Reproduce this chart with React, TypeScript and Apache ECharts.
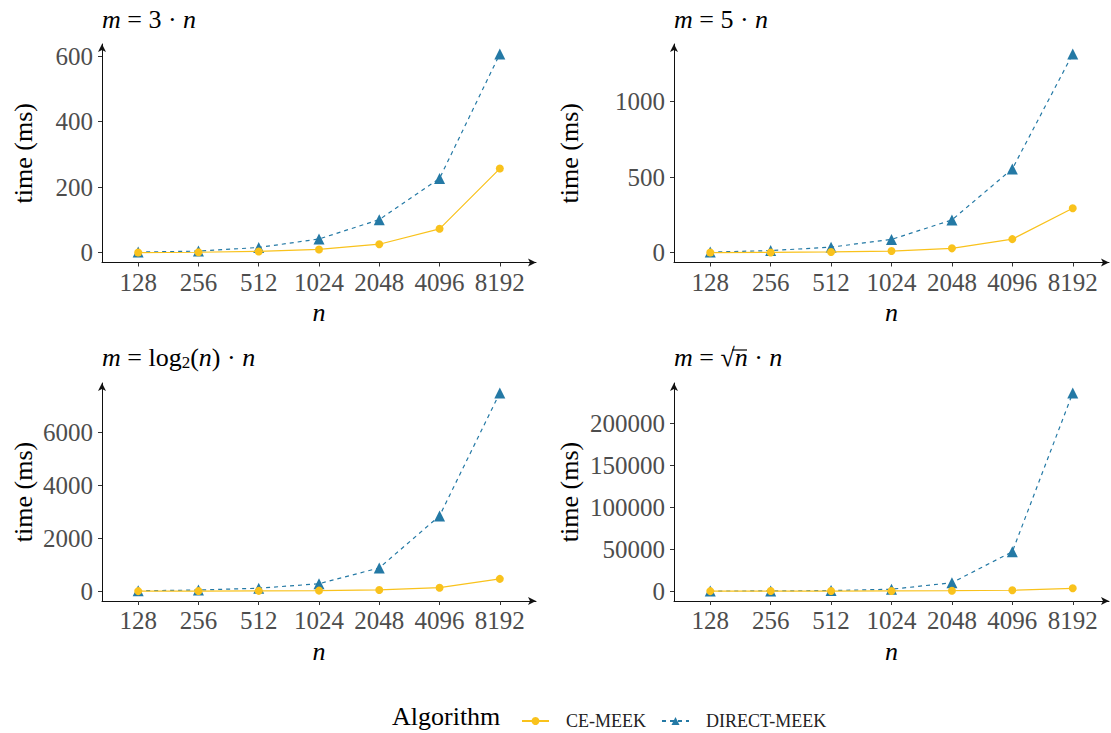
import React, { useEffect, useRef } from "react";
import * as echarts from "echarts";

// ---- data ----
const categories = ["128", "256", "512", "1024", "2048", "4096", "8192"];

const ce3n = [0.5, 1.5, 4, 10, 26, 73, 257];
const direct3n = [2, 5, 16, 42, 101, 227, 607];

const ce5n = [1, 2, 5, 11, 29, 90, 294];
const direct5n = [4, 14, 37, 88, 217, 555, 1316];

const ceLog = [1, 3, 8, 20, 45, 130, 465];
const directLog = [12, 40, 110, 280, 880, 2850, 7508];

const ceSqrt = [5, 20, 60, 200, 500, 1000, 3300];
const directSqrt = [50, 200, 600, 2200, 10000, 47000, 236500];

const ticks3n = [0, 200, 400, 600];
const ticks5n = [0, 500, 1000];
const ticksLog = [0, 2000, 4000, 6000];
const ticksSqrt = [0, 50000, 100000, 150000, 200000];

const seriesNames = ["CE-MEEK", "DIRECT-MEEK"];
const legendTitle = "Algorithm";
const yName = "time (ms)";
const xName = "n";

const titles = [
  "{i|m} = 3 · {i|n}",
  "{i|m} = 5 · {i|n}",
  "{i|m} = log{s|2}({i|n}) · {i|n}",
  "{i|m} = √{i|n} · {i|n}",
];

const panels = [
  { ce: ce3n, direct: direct3n, ticks: ticks3n },
  { ce: ce5n, direct: direct5n, ticks: ticks5n },
  { ce: ceLog, direct: directLog, ticks: ticksLog },
  { ce: ceSqrt, direct: directSqrt, ticks: ticksSqrt },
];

// ---- layout / style ----
const FONT = "Liberation Serif";
const YELLOW = "#F9C21C";
const BLUE = "#2479A5";
const layout = [
  { left: 102, top: 44, width: 434, height: 218.5, nameGap: 66 },
  { left: 674, top: 44, width: 435, height: 218.5, nameGap: 92 },
  { left: 102, top: 383, width: 434, height: 218, nameGap: 66 },
  { left: 674, top: 383, width: 435, height: 218, nameGap: 92 },
];
const titleTops = [6, 6, 344, 344];

function yRange(a: number[], b: number[]) {
  const all = [...a, ...b];
  const lo = Math.min(...all);
  const hi = Math.max(...all);
  const pad = (hi - lo) * 0.05;
  return [lo - pad, hi + pad];
}

export default function App() {
  const ref = useRef<HTMLDivElement>(null);

  useEffect(() => {
    if (!ref.current) return;
    const chart = echarts.init(ref.current, undefined, { renderer: "svg" });
    const idx = categories.map((_, i) => i);

    const grid = layout.map((l) => ({
      left: l.left,
      top: l.top,
      width: l.width,
      height: l.height,
      containLabel: false,
    }));

    const axisLine = {
      show: true,
      onZero: false,
      symbol: ["none", "arrow"],
      symbolSize: [6, 8],
      lineStyle: { color: "#111", width: 1 },
    };

    const xAxis = panels.map((_, i) => ({
      type: "value",
      gridIndex: i,
      min: -0.6,
      max: 6.6,
      name: xName,
      nameLocation: "middle",
      nameGap: 37,
      nameTextStyle: { fontFamily: FONT, fontStyle: "italic", fontSize: 26, color: "#000" },
      axisLine,
      axisTick: { show: true, length: 4, customValues: idx, lineStyle: { color: "#333" } },
      axisLabel: {
        customValues: idx,
        formatter: (v: number) => categories[Math.round(v)],
        fontFamily: FONT,
        fontSize: 25,
        color: "#4D4D4D",
        margin: 7,
      },
      splitLine: { show: false },
    }));

    const yAxis = panels.map((p, i) => {
      const [mn, mx] = yRange(p.ce, p.direct);
      return {
        type: "value",
        gridIndex: i,
        min: mn,
        max: mx,
        name: yName,
        nameLocation: "middle",
        nameGap: layout[i].nameGap,
        nameRotate: 90,
        nameTextStyle: { fontFamily: FONT, fontSize: 26, color: "#000" },
        axisLine,
        axisTick: { show: true, length: 4, customValues: p.ticks, lineStyle: { color: "#333" } },
        axisLabel: {
          customValues: p.ticks,
          formatter: (v: number) => String(Math.round(v)),
          fontFamily: FONT,
          fontSize: 25,
          color: "#4D4D4D",
          margin: 9,
        },
        splitLine: { show: false },
      };
    });

    const series: any[] = [];
    panels.forEach((p, i) => {
      series.push({
        type: "line",
        name: seriesNames[1],
        xAxisIndex: i,
        yAxisIndex: i,
        data: p.direct.map((v, j) => [j, v]),
        symbol: "triangle",
        symbolSize: 11,
        itemStyle: { color: BLUE },
        lineStyle: { color: BLUE, width: 1.2, type: [4, 4] },
        z: 2,
      });
      series.push({
        type: "line",
        name: seriesNames[0],
        xAxisIndex: i,
        yAxisIndex: i,
        data: p.ce.map((v, j) => [j, v]),
        symbol: "circle",
        symbolSize: 8,
        itemStyle: { color: YELLOW },
        lineStyle: { color: YELLOW, width: 1.2 },
        z: 3,
      });
    });

    const title = titles.map((t, i) => ({
      text: t,
      left: layout[i].left,
      top: titleTops[i],
      padding: 0,
      textStyle: {
        fontFamily: FONT,
        fontSize: 26,
        fontWeight: "normal",
        color: "#000",
        rich: {
          i: { fontFamily: FONT, fontSize: 26, fontStyle: "italic", color: "#000" },
          s: { fontFamily: FONT, fontSize: 17, color: "#000", padding: [10, 0, 0, 0] },
        },
      },
    }));

    chart.setOption({
      animation: false,
      backgroundColor: "#fff",
      title,
      grid,
      xAxis,
      yAxis,
      series,
      legend: {
        data: seriesNames,
        left: 516,
        top: 707,
        itemWidth: 27,
        itemHeight: 10,
        itemGap: 15,
        textStyle: { fontFamily: FONT, fontSize: 18, color: "#222", padding: [0, 0, 0, 12] },
      },
      graphic: [
        {
          type: "text",
          left: 392,
          top: 703,
          style: { text: legendTitle, font: `26px "${FONT}"`, fill: "#000" },
        },
        {
          type: "line",
          shape: { x1: 732, y1: 350, x2: 747, y2: 350 },
          style: { stroke: "#000", lineWidth: 1.2 },
        },
      ],
    });

    return () => chart.dispose();
  }, []);

  return (
    <div
      ref={ref}
      style={{ position: "fixed", left: 0, top: 0, width: 1111, height: 733, background: "#fff" }}
    />
  );
}
